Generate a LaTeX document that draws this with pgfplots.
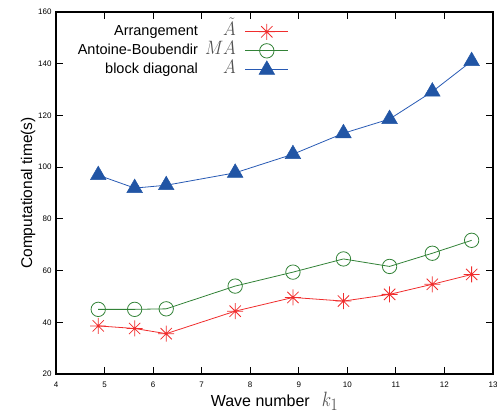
\documentclass[border=0pt]{standalone}
\usepackage{pgfplots}
\pgfplotsset{compat=1.18}
\usepackage{fontspec}
\setmainfont{Liberation Sans}
\definecolor{cred}{RGB}{240,45,45}
\definecolor{cgreen}{RGB}{50,130,55}
\definecolor{cblue}{RGB}{40,90,180}
\definecolor{cbluef}{RGB}{33,85,165}
\definecolor{mathgray}{RGB}{80,80,80}
\pgfdeclareplotmark{gpstar}{%
  \pgfpathmoveto{\pgfqpoint{-\pgfplotmarksize}{0pt}}%
  \pgfpathlineto{\pgfqpoint{\pgfplotmarksize}{0pt}}%
  \pgfpathmoveto{\pgfqpoint{0pt}{-\pgfplotmarksize}}%
  \pgfpathlineto{\pgfqpoint{0pt}{\pgfplotmarksize}}%
  \pgfpathmoveto{\pgfqpoint{-0.7071\pgfplotmarksize}{-0.7071\pgfplotmarksize}}%
  \pgfpathlineto{\pgfqpoint{0.7071\pgfplotmarksize}{0.7071\pgfplotmarksize}}%
  \pgfpathmoveto{\pgfqpoint{-0.7071\pgfplotmarksize}{0.7071\pgfplotmarksize}}%
  \pgfpathlineto{\pgfqpoint{0.7071\pgfplotmarksize}{-0.7071\pgfplotmarksize}}%
  \pgfusepathqstroke}
\newcommand{\mth}[1]{\makebox[38pt][r]{\color{mathgray}\scalebox{1}[1.12]{\fontsize{17}{17}\selectfont$#1$}}\hbox to 7pt{}}
\begin{document}
\begin{tikzpicture}
\begin{axis}[
  scale only axis,
  width=437pt, height=362pt,
  xmin=4, xmax=13, ymin=20, ymax=160,
  xtick={4,5,...,13}, ytick={20,40,...,160},
  axis line style={line width=1.3pt},
  major tick style={line width=0.9pt, black},
  major tick length=7pt,
  tick align=inside,
  minor tick num=0,
  ticklabel style={font=\fontsize{8}{8}\selectfont},
  /pgf/number format/assume math mode=true,
  xticklabel style={yshift=-4pt},
  yticklabel style={xshift=-1pt},
  xlabel={\fontsize{16}{16}\selectfont Wave number\hspace{12pt}{\color{mathgray}\scalebox{1}[1.2]{\fontsize{19}{19}\selectfont$k_1$}}},
  ylabel={\fontsize{15.5}{16}\selectfont Computational time(s)},
  xlabel style={yshift=2pt},
  ylabel style={yshift=-4pt},
  legend plot pos=right,
  legend cell align=right,
  legend style={at={(0.533,0.972)}, anchor=north east, draw=none, fill=none, inner sep=0pt,
    font=\fontsize{14.5}{14.5}\selectfont, row sep=0pt, column sep=0pt,
    nodes={text height=11pt, text depth=4pt, inner sep=2pt}},
  legend image code/.code={%
    \draw[#1, mark=none] (0pt,0pt) -- (43pt,0pt);
    \draw[#1, overlay, only marks] plot coordinates {(21.5pt,0pt)};},
]
\addplot[cred, line width=0.8pt, mark=gpstar, mark size=8pt, mark options={line width=0.8pt}]
 coordinates {(4.87,38.6) (5.62,37.6) (6.27,35.6) (7.69,44.3) (8.88,49.6) (9.92,48.2) (10.87,50.8) (11.75,54.7) (12.56,58.5)};
\addlegendentry{Arrangement\mth{\tilde{A}}}
\addplot[cgreen, line width=0.8pt, mark=o, mark size=7.2pt, mark options={line width=0.8pt}]
 coordinates {(4.87,45.0) (5.62,45.0) (6.27,45.2) (7.69,54.0) (8.88,59.4) (9.92,64.5) (10.87,61.6) (11.75,66.7) (12.56,71.7)};
\addlegendentry{Antoine-Boubendir\mth{MA}}
\addplot[cblue, line width=0.8pt, mark=triangle*, mark size=9pt, mark options={fill=cbluef, draw=cbluef, line width=0.5pt}]
 coordinates {(4.87,96.9) (5.62,91.9) (6.27,93.0) (7.69,97.8) (8.88,105.0) (9.92,113.1) (10.87,118.6) (11.75,129.2) (12.56,141.0)};
\addlegendentry{block diagonal\mth{A}}
\end{axis}
\pgfresetboundingbox
\path[use as bounding box] ([xshift=-56pt,yshift=-43pt]current axis.south west) rectangle ([xshift=4pt,yshift=12pt]current axis.north east);
\end{tikzpicture}
\end{document}
